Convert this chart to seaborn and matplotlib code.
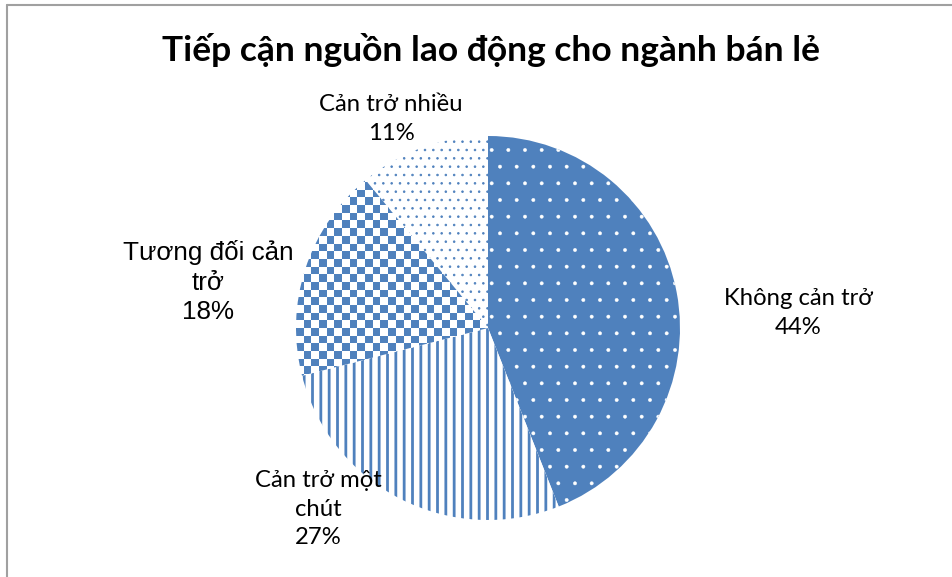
import matplotlib
matplotlib.use("Agg")
import matplotlib.pyplot as plt
import numpy as np
import seaborn as sns
from matplotlib.colors import ListedColormap
from matplotlib.lines import Line2D

sns.set_theme(style="white")
plt.rcParams["font.family"] = ["Lato", "Open Sans", "DejaVu Sans"]

# data
categories = ["Không cản trở", "Cản trở một\nchút", "Tương đối cản\ntrở", "Cản trở nhiều"]
shares = [44, 27, 18, 11]
title = "Tiếp cận nguồn lao động cho ngành bán lẻ"

BLUE = "#4f81bd"
W, H = 953, 577
cx, cy, rad = 488, H - 328, 192

fig = plt.figure(figsize=(W / 100, H / 100), dpi=100)
ax = fig.add_axes([0, 0, 1, 1])

wedges, _ = ax.pie(
    shares,
    startangle=90,
    counterclock=False,
    center=(cx, cy),
    radius=rad,
    colors=[BLUE, "white", "white", "white"],
    wedgeprops={"linewidth": 0},
)

# textures: (hatch, hatch colour, hatch linewidth)
styles = [(".", "white", 0.3), ("||", BLUE, 2.0), (None, None, None), ("..", BLUE, 0.6)]
for w, (h, hc, hlw) in zip(wedges, styles):
    if h is None:
        continue
    w.set_hatch(h)
    if hasattr(w, "set_hatchcolor"):
        w.set_hatchcolor(hc)
    else:
        w.set_edgecolor(hc)
    if hasattr(w, "set_hatch_linewidth"):
        w.set_hatch_linewidth(hlw)

# checkerboard for the third slice
n = 50
board = np.indices((n, n)).sum(axis=0) % 2
img = ax.imshow(board, cmap=ListedColormap(["white", BLUE]), interpolation="nearest",
                extent=(cx - rad, cx + rad, cy - rad, cy + rad), zorder=wedges[2].get_zorder() + 0.1)
img.set_clip_path(wedges[2])

# labels (pixel positions of the label centres)
label_pos = [(798, 313), (318, 509), (208, 282), (391, 119)]
for cat, val, (px, py) in zip(categories, shares, label_pos):
    big = cat.startswith("Tương")
    ax.text(px, H - py, f"{cat}\n{val}%", ha="center", va="center",
            fontsize=18.7 if big else 17.2, linespacing=1.3 if big else 1.42,
            family=["Liberation Sans", "DejaVu Sans"] if big else None, color="black")

ax.text(W / 2 + 15, H - 50, title, ha="center", va="center", fontsize=25.5,
        fontweight="bold", color="black")

ax.set_xlim(0, W)
ax.set_ylim(0, H)
ax.set_aspect("equal")
ax.axis("off")

# chart frame (left and top edges only visible)
fig.add_artist(Line2D([7 / W, 7 / W], [0, 1 - 5 / H], transform=fig.transFigure, color="#a0a0a0", lw=1.5))
fig.add_artist(Line2D([7 / W, 1], [1 - 5 / H, 1 - 5 / H], transform=fig.transFigure, color="#a0a0a0", lw=1.5))

fig.savefig("out.png", dpi=100)
